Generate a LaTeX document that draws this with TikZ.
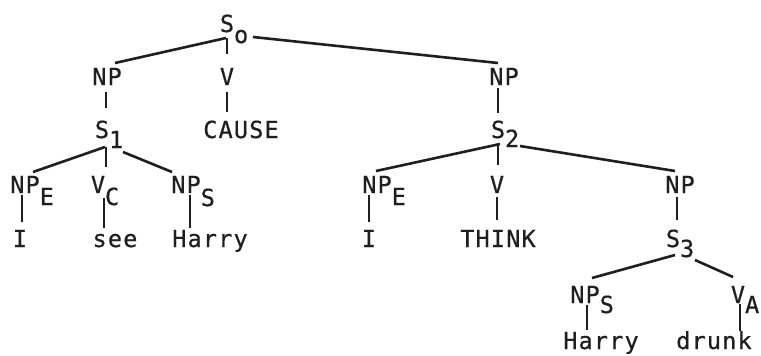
\documentclass[tikz,border=0pt]{standalone}
\usepackage{fontspec}
\newfontfamily\tw[LetterSpace=5,FakeBold=0.6]{DejaVu Sans Mono}
\usetikzlibrary{calc}
\newcommand{\subs}[2][11pt]{\rlap{\raisebox{-#1}{#2}}}
\begin{document}
\begin{tikzpicture}[x=1pt,y=-1pt,
  lab/.style={font=\tw\fontsize{23.5}{23.5}\selectfont, inner sep=0pt, anchor=base, text=black!88},
  edge/.style={line width=2.6pt, draw=black!88}]
\useasboundingbox (0,0) rectangle (761,356);
% nodes
\node[lab] (s0) at (227,32) {S\subs{o}};
\node[lab] (np1) at (107,85) {NP};
\node[lab] (v0) at (227,85) {V};
\node[lab] (np2) at (504,85) {NP};
\node[lab] (s1) at (102,138) {S\subs[10pt]{1}};
\node[lab] (cause) at (241,138) {CAUSE};
\node[lab] (s2) at (498,138) {S\subs[9pt]{2}};
\node[lab] (npE1) at (25,193) {NP\subs[12pt]{E}};
\node[lab] (vC) at (98,193) {V\subs[12pt]{C}};
\node[lab] (npS1) at (186,193) {NP\subs[13pt]{S}};
\node[lab] (npE2) at (377,193) {NP\subs[12pt]{E}};
\node[lab] (v2) at (497,193) {V};
\node[lab] (np3) at (680,193) {NP};
\node[lab] (i1) at (20,247) {I};
\node[lab] (see) at (115,247) {see};
\node[lab] (harry1) at (210,247) {Harry};
\node[lab] (i2) at (369,247) {I};
\node[lab] (think) at (498,247) {THINK};
\node[lab] (s3) at (673,247) {S\subs[10pt]{3}};
\node[lab] (npS2) at (585,303) {NP\subs[10pt]{S}};
\node[lab] (vA) at (738,303) {V\subs[10pt]{A}};
\node[lab] (harry2) at (601,349) {Harry};
\node[lab] (drunk) at (714,349) {drunk};
% connectors
\draw[edge] ($(s0.base)+(-1,6)$) -- ($(np1.base)+(8,-22)$);
\draw[edge] ($(s0.base)+(0,6)$) -- ($(v0.base)+(0,-31)$);
\draw[edge] ($(s0.base)+(26,5)$) -- ($(np2.base)+(-6,-22)$);
\draw[edge] ($(np1.base)+(-1,7)$) -- ($(s1.base)+(4,-30)$);
\draw[edge] ($(v0.base)+(0,7)$) -- ($(cause.base)+(-14,-26)$);
\draw[edge] ($(s1.base)+(3,9)$) -- ($(npE1.base)+(8,-21)$);
\draw[edge] ($(s1.base)+(4,9)$) -- ($(vC.base)+(8,-26)$);
\draw[edge] ($(s1.base)+(21,14)$) -- ($(npS1.base)+(-14,-21)$);
\draw[edge] ($(npE1.base)+(-3,2)$) -- ($(i1.base)+(2,-25)$);
\draw[edge] ($(vC.base)+(6,5)$) -- ($(see.base)+(-11,-19)$);
\draw[edge] ($(npS1.base)+(4,2)$) -- ($(harry1.base)+(-20,-19)$);
\draw[edge] ($(np2.base)+(-6,3)$) -- ($(s2.base)+(0,-25)$);
\draw[edge] ($(s2.base)+(2,6)$) -- ($(npE2.base)+(-1,-22)$);
\draw[edge] ($(s2.base)+(0,6)$) -- ($(v2.base)+(1,-28)$);
\draw[edge] ($(s2.base)+(22,8)$) -- ($(np3.base)+(-5,-22)$);
\draw[edge] ($(npE2.base)+(-8,2)$) -- ($(i2.base)+(0,-25)$);
\draw[edge] ($(v2.base)+(0,4)$) -- ($(think.base)+(-1,-27)$);
\draw[edge] ($(np3.base)+(-3,4)$) -- ($(s3.base)+(4,-27)$);
\draw[edge] ($(s3.base)+(2,8)$) -- ($(npS2.base)+(7,-25)$);
\draw[edge] ($(s3.base)+(22,13)$) -- ($(vA.base)+(-5,-26)$);
\draw[edge] ($(npS2.base)+(2,2)$) -- ($(harry2.base)+(-14,-19)$);
\draw[edge] ($(vA.base)+(2,1)$) -- ($(drunk.base)+(26,-18)$);
\end{tikzpicture}
\end{document}
